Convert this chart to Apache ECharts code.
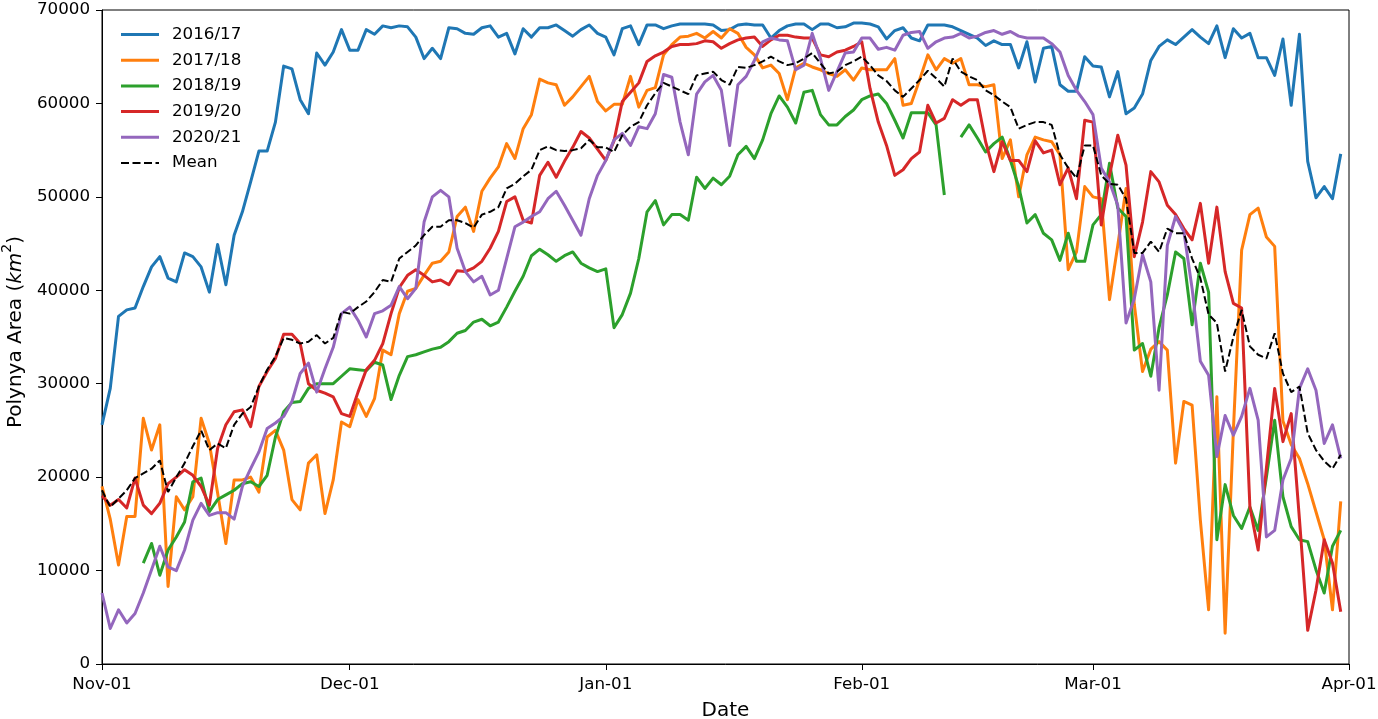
<!DOCTYPE html>
<html><head><meta charset="utf-8">
<script src="https://cdn.jsdelivr.net/npm/echarts@6/dist/echarts.min.js"></script>
<style>html,body{margin:0;padding:0;background:#fff}#c{width:1378px;height:719px}</style>
</head><body><div id="c"></div>
<script>
// Season names
const seasonNames = ['2016/17', '2017/18', '2018/19', '2019/20', '2020/21'];
const meanName = 'Mean';

// X axis: days since Nov-01; month-start tick positions and labels
const monthTickDays = [0, 30, 61, 92, 120, 151];
const monthTickLabels = ['Nov-01', 'Dec-01', 'Jan-01', 'Feb-01', 'Mar-01', 'Apr-01'];

// Y axis tick values
const yTicks = [0, 10000, 20000, 30000, 40000, 50000, 60000, 70000];

// Daily polynya area (km^2), day 0 = Nov-01
const area2016_17 = [
25600,29500,37200,37900,38100,40400,42500,43600,41300,40900,
44000,43600,42500,39800,44900,40600,45900,48400,51600,54900,
54900,58000,64000,63700,60400,58900,65400,64100,65500,67900,
65700,65700,67900,67400,68300,68100,68300,68200,67100,64800,
65900,64800,68100,68000,67500,67400,68100,68300,67100,67500,
65300,68000,67100,68100,68100,68400,67800,67200,67900,68400,
67500,67100,65200,68000,68300,66300,68400,68400,68000,68300,
68500,68500,68500,68500,68400,67800,67900,68400,68500,68400,
68400,67000,67800,68300,68500,68500,67900,68500,68500,68100,
68200,68600,68600,68500,68200,66900,67800,68100,67000,66700,
68400,68400,68400,68200,67800,67400,67000,66200,66700,66300,
66300,63800,66600,62300,65900,66100,62000,61300,61300,65000,
64000,63900,60700,63400,58900,59500,61000,64600,66100,66800,
66300,67100,67900,67100,66400,68300,64900,68000,67000,67500,
64900,64900,63000,66900,59800,67400,53800,49900,51100,49800,
54600];

const area2017_18 = [
19000,15500,10600,15800,15800,26300,22900,25600,8300,17900,
16500,17900,26300,23600,18300,12900,19700,19700,20000,18400,
24300,25000,22900,17600,16500,21500,22400,16100,19700,25900,
25400,28300,26500,28400,33600,33100,37500,39900,40200,41600,
42900,43100,44100,47900,48900,46300,50600,52000,53200,55700,
54100,57300,58800,62600,62200,62000,59800,60700,61800,62900,
60200,59200,59900,59900,62900,59600,61400,61700,65200,66300,
67100,67200,67500,67000,67700,67000,68000,67500,66000,65200,
63800,64100,63200,60400,63800,64300,63900,63600,63200,62900,
63600,62500,63800,63600,63600,63600,64800,59800,60000,62500,
65200,63600,64800,64300,64800,62000,62000,61800,62000,54100,
56100,50000,54500,56400,56100,55900,54500,42200,44100,51100,
50000,49800,39000,44800,50900,38500,31300,33700,34500,33600,
21500,28100,27700,15400,5800,28600,3300,25000,44300,48100,
48800,45700,44700,26000,23500,22000,19300,16300,13300,5800,
17400];

const area2018_19 = [
null,null,null,null,null,10800,12900,9500,12200,13600,
15200,19500,19900,16300,17600,18100,18600,19300,19500,19000,
20200,24300,27000,28000,28100,29500,30000,30000,30000,30800,
31600,31500,31400,32300,32000,28300,30900,32900,33100,33400,
33700,33900,34500,35400,35700,36600,36900,36200,36600,38200,
39900,41500,43700,44400,43800,43100,43700,44100,42900,42400,
42000,42300,36000,37400,39700,43400,48400,49600,47000,48100,
48100,47500,52100,50900,52000,51300,52200,54500,55400,54100,
56100,58900,60800,59600,57900,61200,61400,58800,57700,57700,
58600,59300,60400,60800,61000,60000,58200,56300,59000,59000,
59000,57700,50200,null,56400,57700,56300,54800,55700,56400,
53900,51100,47200,48100,46100,45400,43200,46100,43100,43100,
47000,48100,53600,48800,47900,33600,34300,30800,36000,39500,
44100,43400,36300,42900,39800,13300,19200,15900,14500,16800,
14300,20000,26100,17900,14700,13300,13100,10100,7600,12600,
14300];

const area2019_20 = [
18000,17000,17600,16700,19900,17000,16100,17200,19300,20000,
20800,20200,19000,17000,23100,25600,27000,27200,25400,29700,
31300,32700,35300,35300,34300,30000,29300,29000,28600,26800,
26500,29100,31500,32500,34300,37500,40300,41600,42200,41600,
40900,41100,40600,42100,42000,42400,43100,44500,46300,49500,
50000,47500,47200,52300,53700,52100,53800,55300,57000,56300,
55100,53900,56000,60200,61200,62200,64500,65100,65500,66100,
66300,66300,66400,66700,66600,65900,66400,66800,67000,67100,
66100,66800,67300,67300,67100,67000,67000,65200,65000,65500,
65700,66100,66600,61600,58000,55500,52300,52900,54100,54800,
59800,57900,58400,60400,59800,60400,60400,55900,52700,55900,
53900,53900,52700,56000,54700,55000,51300,53100,49800,58200,
58000,47000,52300,56600,53400,43600,47300,52700,51600,49100,
48100,46600,45400,49300,42900,48900,42000,38600,38100,16800,
12200,21000,29500,23800,26800,15500,3600,7900,13300,10800,
5600];

const area2020_21 = [
7600,3800,5800,4400,5400,7600,10100,12600,10400,10000,
12200,15400,17200,15900,16200,16200,15500,19000,20900,22700,
25200,25800,26500,28100,31100,32200,29100,31600,33900,37500,
38200,36800,35000,37500,37800,38400,40400,39100,40200,47300,
50000,50700,50000,44500,42000,40900,41500,39500,40000,43400,
46800,47300,47900,48400,49800,50600,49100,47500,45900,49800,
52300,53900,56100,56800,55500,57500,57300,58900,63100,62800,
58000,54500,61000,62300,63000,61400,55500,62000,62900,64600,
66600,67000,66800,66700,63600,64100,67500,64800,61400,63400,
65400,65500,67000,67000,65800,66000,65700,67300,67600,67700,
65900,66600,67000,67100,67500,67000,67200,67600,67800,67400,
67700,67200,67000,67000,67000,66400,65500,63000,61400,60200,
58800,53100,51600,49100,36500,39100,43800,40900,29300,44800,
47900,46300,40200,32400,30900,22200,26600,24500,26500,29500,
26100,13600,14300,19700,22000,29500,31600,29300,23600,25600,
22000];

const areaMean = [
18600,16800,17700,18600,19900,20400,20900,21800,18400,20000,
21500,23300,25000,22900,23600,23100,25600,26800,27500,29700,
31500,32900,34900,34700,34300,34500,35200,34300,34900,37700,
37500,38200,38800,39800,41100,40900,43400,44100,44800,45900,
46800,46800,47500,47500,47200,46700,48100,48400,48900,50900,
51400,52200,52900,55000,55400,55000,54900,55000,55200,56100,
55300,55300,54800,56600,57500,58000,59800,61100,62200,61800,
61400,61000,63000,63200,63400,62500,62000,63900,63800,64100,
64500,65000,64500,64100,64300,64800,65400,64300,63200,63400,
64100,64500,65000,64100,63000,62400,61400,60700,61600,62500,
63500,62700,61800,64800,63400,62900,62500,61400,60900,60200,
59600,57300,57700,58000,58000,57700,54500,53100,52000,55500,
55500,52300,51400,51300,49800,44000,44000,45200,44100,46600,
46100,46100,43400,41300,37400,36500,31300,35000,37900,34000,
33100,32700,35400,31100,29100,29700,24700,22900,21700,20900,
22400];

const seasonColors = ['#1f77b4', '#ff7f0e', '#2ca02c', '#d62728', '#9467bd'];
const seasonData = [area2016_17, area2017_18, area2018_19, area2019_20, area2020_21];

const FONT = 'DejaVu Sans';
function toPoints(arr) { return arr.map(function (v, i) { return [i, v]; }); }

const series = seasonData.map(function (arr, k) {
  return {
    name: seasonNames[k],
    type: 'line',
    data: toPoints(arr),
    symbol: 'none',
    showSymbol: false,
    connectNulls: false,
    animation: false,
    lineStyle: { width: 3, color: seasonColors[k], join: 'round' },
    itemStyle: { color: seasonColors[k] },
    z: 2 + k
  };
});
series.push({
  name: meanName,
  type: 'line',
  data: toPoints(areaMean),
  symbol: 'none',
  showSymbol: false,
  animation: false,
  lineStyle: { width: 2, color: '#000', type: [7.4, 3.2] },
  itemStyle: { color: '#000' },
  z: 10
});

const legendData = seasonNames.map(function (n) { return { name: n, icon: 'rect' }; });
legendData.push({ name: meanName, icon: 'path://M0,0h8v2h-8z M11.5,0h8v2h-8z M23,0h8v2h-8z M34.5,0h3.5v2h-3.5z' });

const chart = echarts.init(document.getElementById('c'), null, { renderer: 'canvas' });
chart.setOption({
  animation: false,
  backgroundColor: '#fff',
  textStyle: { fontFamily: FONT },
  grid: { left: 102, right: 29, top: 10, bottom: 55, show: true, borderColor: '#000', borderWidth: 1, backgroundColor: 'transparent', containLabel: false, outerBoundsMode: 'none' },
  legend: {
    orient: 'vertical', left: 116, top: 21,
    itemWidth: 38, itemHeight: 3, itemGap: 8.7,
    data: legendData,
    textStyle: { fontFamily: FONT, fontSize: 16.7, lineHeight: 17, color: '#000', padding: [0, 0, 0, 8] }
  },
  xAxis: {
    type: 'value', min: 0, max: 151,
    axisLine: { show: true, lineStyle: { color: '#000', width: 1 } },
    axisTick: { show: true, length: 6, lineStyle: { color: '#000', width: 1 }, customValues: monthTickDays },
    axisLabel: {
      customValues: monthTickDays, margin: 12,
      fontFamily: FONT, fontSize: 16.7, color: '#000',
      formatter: function (v) { return monthTickLabels[monthTickDays.indexOf(v)] || ''; }
    },
    splitLine: { show: false },
    name: 'Date', nameLocation: 'middle', nameGap: 37,
    nameTextStyle: { fontFamily: FONT, fontSize: 20, color: '#000' }
  },
  yAxis: {
    type: 'value', min: yTicks[0], max: yTicks[yTicks.length - 1], interval: 10000,
    axisLine: { show: true, lineStyle: { color: '#000', width: 1 } },
    axisTick: { show: true, length: 6, lineStyle: { color: '#000', width: 1 } },
    axisLabel: { margin: 12, fontFamily: FONT, fontSize: 16.7, color: '#000', formatter: function (v) { return String(v); } },
    splitLine: { show: false },
    name: '{a|Polynya Area (}{i|km}{s|2}{a|)}', nameLocation: 'middle', nameGap: 74, nameRotate: 90,
    nameTextStyle: {
      fontFamily: FONT, fontSize: 20, color: '#000', padding: [0, 0, 0, 10],
      rich: {
        a: { fontFamily: FONT, fontSize: 20, color: '#000', lineHeight: 26, verticalAlign: 'bottom' },
        i: { fontFamily: FONT, fontSize: 20, fontStyle: 'italic', color: '#000', lineHeight: 26, verticalAlign: 'bottom' },
        s: { fontFamily: FONT, fontSize: 14, color: '#000', lineHeight: 26, verticalAlign: 'top' }
      }
    }
  },
  series: series
});
</script>
</body></html>
